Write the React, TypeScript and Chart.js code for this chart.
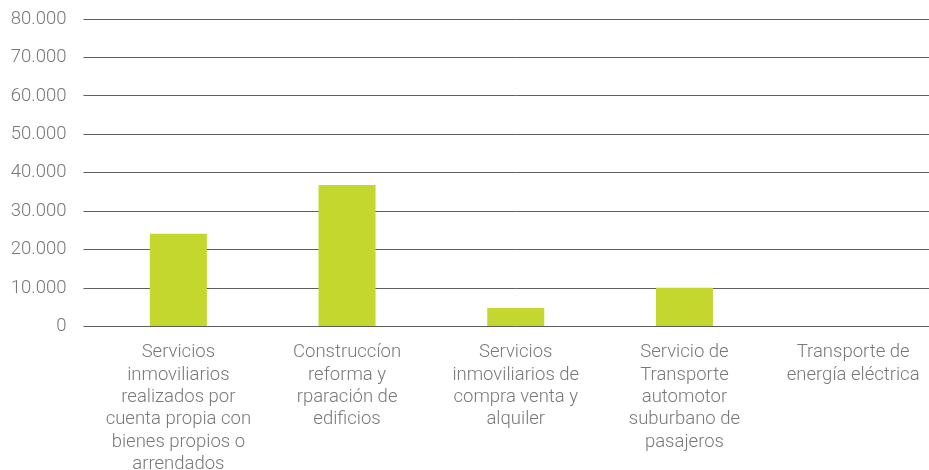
import React, { useEffect, useRef } from "react";
import { Chart, registerables } from "chart.js";

Chart.register(...registerables);

const categories: string[][] = [
  ["Servicios", "inmoviliarios", "realizados por", "cuenta propia con", "bienes propios o", "arrendados"],
  ["Construccíon", "reforma y", "rparación de", "edificios"],
  ["Servicios", "inmoviliarios de", "compra venta y", "alquiler"],
  ["Servicio de", "Transporte", "automotor", "suburbano de", "pasajeros"],
  ["Transporte de", "energía eléctrica"],
];

const values: number[] = [24100, 36800, 4800, 10100, 0];

const yMin = 0;
const yMax = 80000;
const yStep = 10000;

const formatTick = (v: number) =>
  String(Math.round(v)).replace(/\B(?=(\d{3})+(?!\d))/g, ".");

export default function App() {
  const ref = useRef<HTMLCanvasElement | null>(null);

  useEffect(() => {
    if (!ref.current) return;
    const font = { family: "Roboto", size: 18.5, weight: "300" as any, lineHeight: 1.21 };
    const chart = new Chart(ref.current, {
      type: "bar",
      data: {
        labels: categories,
        datasets: [
          {
            data: values,
            backgroundColor: "#c3d72f",
            borderWidth: 0,
            barPercentage: 0.338,
            categoryPercentage: 1,
          },
        ],
      },
      options: {
        animation: false,
        responsive: false,
        devicePixelRatio: 1,
        layout: { padding: { top: 19, right: 2.5, bottom: 0, left: 0 } },
        plugins: { legend: { display: false }, tooltip: { enabled: false } },
        scales: {
          x: {
            grid: { display: false },
            border: { display: false },
            ticks: { color: "#787878", font, padding: 7, maxRotation: 0, autoSkip: false },
            afterFit: (scale: any) => {
              scale.height = 143.5;
              scale.paddingTop = 0;
              scale.paddingBottom = 0;
            },
          },
          y: {
            min: yMin,
            max: yMax,
            grid: { color: "#5e5e5e", lineWidth: 1, drawTicks: true, tickLength: 10.5 },
            border: { display: false },
            ticks: {
              stepSize: yStep,
              color: "#787878",
              font,
              padding: 17,
              callback: (v: any) => formatTick(Number(v)),
            },
            afterFit: (scale: any) => {
              scale.width = 94;
              scale.paddingTop = 0;
              scale.paddingBottom = 0;
            },
          },
        },
      },
    });
    return () => chart.destroy();
  }, []);

  return (
    <div
      style={{
        position: "fixed",
        left: 0,
        top: 0,
        width: 929,
        height: 470,
        overflow: "hidden",
        background: "#fff",
      }}
    >
      <canvas ref={ref} width={940} height={470} style={{ display: "block" }} />
    </div>
  );
}
